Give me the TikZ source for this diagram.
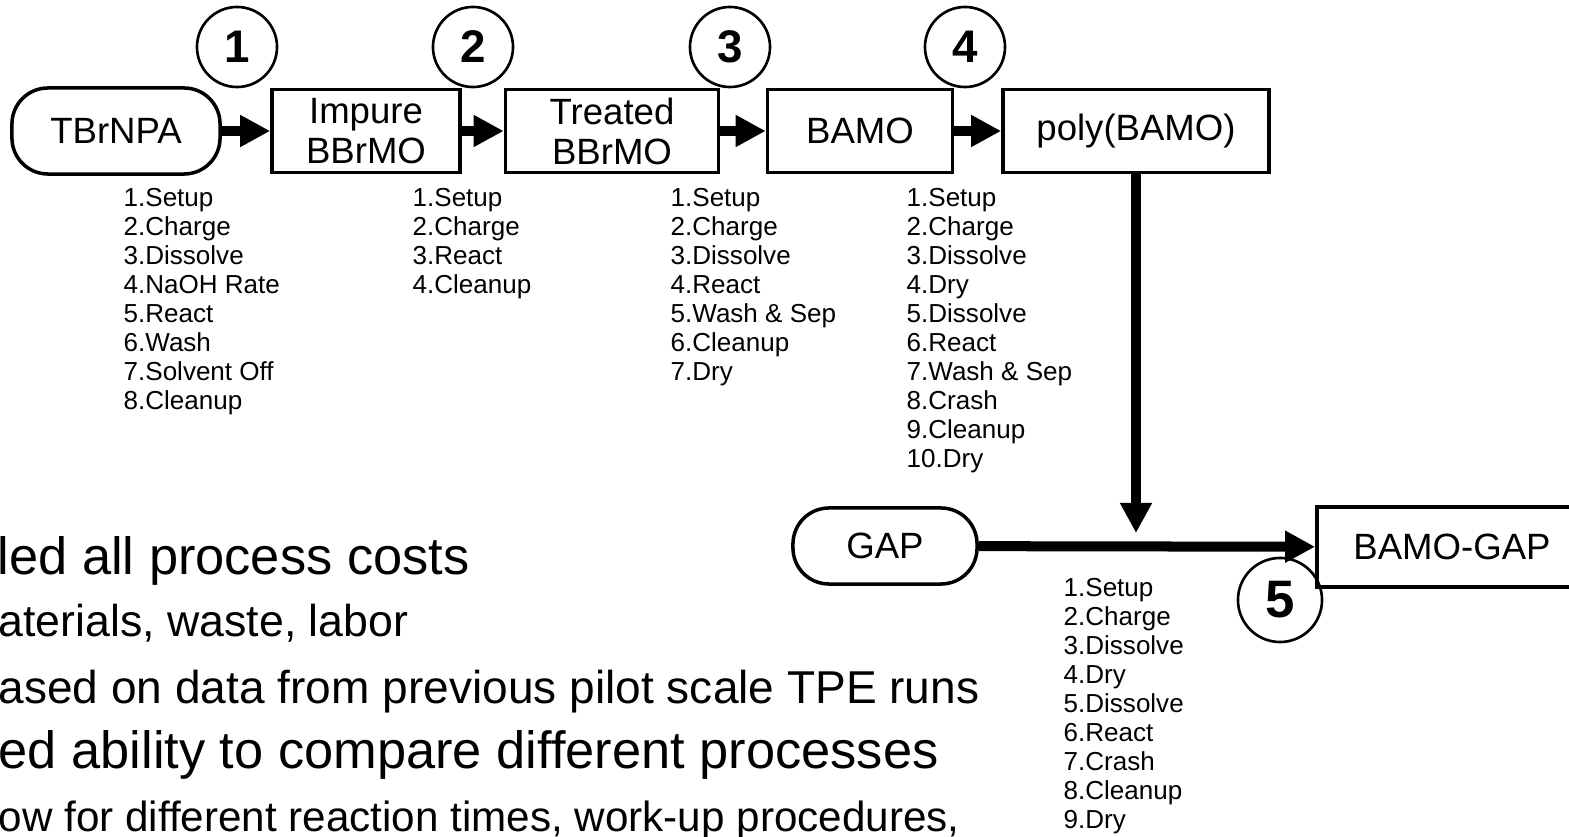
\documentclass[tikz,border=0pt]{standalone}
\usepackage{fontspec}
\setmainfont{Liberation Sans}
\usepackage{tikz}
\usetikzlibrary{arrows.meta,positioning}

\begin{document}
\begin{tikzpicture}[x=0.01cm,y=-0.01cm,
      bx/.style={draw, line width=1pt, inner sep=2pt, align=center,
                 minimum height=0.83cm, font=\fontsize{10.4}{11.4}\selectfont},
      term/.style={bx, rounded corners=0.36cm},
      num/.style={draw, circle, line width=0.75pt, minimum size=0.8cm,
                  inner sep=0pt, font=\fontsize{13}{14}\selectfont\bfseries},
      steps/.style={anchor=north west, inner sep=0pt, align=left,
                    font=\fontsize{7.4}{8.25}\selectfont},
      bullet/.style={anchor=base west, inner sep=0pt},
      arr/.style={-{Triangle[length=0.3cm,width=0.3cm]}, line width=0.1cm}
    ]
      \useasboundingbox (0,0) rectangle (1569,837);
      \clip (0,0) rectangle (1569,837);
      % Step 1: TBrNPA
      \node[term, minimum width=2.08cm, minimum height=0.86cm] (tbr) at (116,131) {TBrNPA};
      \node[num] (n1) at (237,47) {1};
      \node[steps] (s1) at (123,188)
        {1.Setup\\2.Charge\\3.Dissolve\\4.NaOH Rate\\5.React\\6.Wash\\7.Solvent Off\\8.Cleanup};
      % Step 2: Impure BBrMO
      \node[bx, minimum width=1.88cm] (imp) at (366,131) {Impure\\BBrMO};
      \node[num] (n2) at (473,47) {2};
      \node[steps] (s2) at (412,188)
        {1.Setup\\2.Charge\\3.React\\4.Cleanup};
      % Step 3: Treated BBrMO
      \node[bx, minimum width=2.13cm] (trt) at (612,131) {Treated\\BBrMO};
      \node[num] (n3) at (730,47) {3};
      \node[steps] (s3) at (670,188)
        {1.Setup\\2.Charge\\3.Dissolve\\4.React\\5.Wash \& Sep\\6.Cleanup\\7.Dry};
      % Step 4: BAMO
      \node[bx, minimum width=1.85cm] (bamo) at (860,131) {BAMO};
      \node[num] (n4) at (965,47) {4};
      \node[steps] (s4) at (906,188)
        {1.Setup\\2.Charge\\3.Dissolve\\4.Dry\\5.Dissolve\\6.React\\7.Wash \& Sep\\8.Crash\\9.Cleanup\\10.Dry};
      % Step 5: poly(BAMO) and GAP
      \node[bx, minimum width=2.66cm] (poly) at (1136,131) {poly(BAMO)};
      \node[term, minimum width=1.84cm, minimum height=0.76cm] (gap) at (885,546) {GAP};
      \node[bx, minimum width=2.7cm, minimum height=0.8cm] (bg) at (1452,547) {BAMO-GAP};
      \node[num, minimum size=0.84cm, font=\fontsize{15}{16}\selectfont\bfseries] (n5) at (1280,600) {5};
      \node[steps] (s5) at (1063,578)
        {1.Setup\\2.Charge\\3.Dissolve\\4.Dry\\5.Dissolve\\6.React\\7.Crash\\8.Cleanup\\9.Dry};
      \coordinate (join) at (1136,533);
      % Arrows
      \draw[arr] (tbr) -- (imp);
      \draw[arr] (imp) -- (trt);
      \draw[arr] (trt) -- (bamo);
      \draw[arr] (bamo) -- (poly);
      \draw[arr] (poly) -- (join);
      \draw[arr] (gap) -- (bg);
      % Bullet text
      \node[bullet, font=\fontsize{14.9}{16}\selectfont] (b1) at (-3,575) {led all process costs};
      \node[bullet, font=\fontsize{12.7}{14}\selectfont] (b2) at (-2,637) {aterials, waste, labor};
      \node[bullet, font=\fontsize{13.1}{14}\selectfont] (b3) at (-2,703) {ased on data from previous pilot scale TPE runs};
      \node[bullet, font=\fontsize{14.9}{16}\selectfont] (b4) at (-2,768) {ed ability to compare different processes};
      \node[bullet, font=\fontsize{12}{14}\selectfont] (b5) at (-2,831) {ow for different reaction times, work-up procedures,};
    \end{tikzpicture}
\end{document}
